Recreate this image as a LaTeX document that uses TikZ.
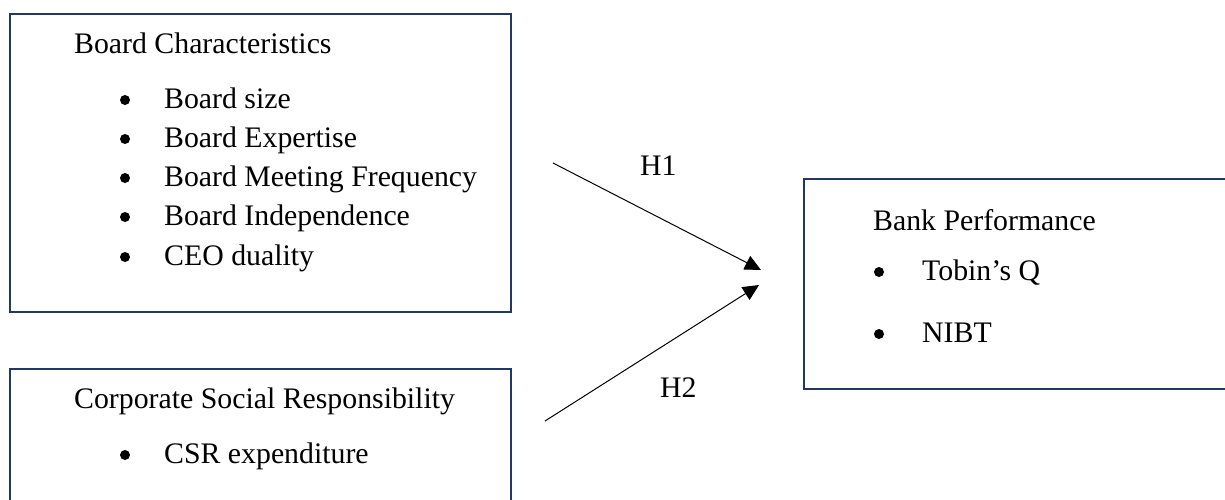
\documentclass[tikz,border=0pt]{standalone}
\usepackage{fontspec}
\setmainfont{Liberation Serif}
\usetikzlibrary{arrows.meta}
\definecolor{navy}{HTML}{203864}
\tikzset{
  box/.style={draw=navy, line width=2pt, anchor=north west, inner sep=0pt},
  txt/.style={anchor=base west, inner sep=0pt, font=\fontsize{29.8}{35}\selectfont},
  bul/.style={circle, fill=black, inner sep=0pt, minimum size=10pt},
  link/.style={line width=1pt, -{Triangle[length=16pt,width=15pt]}},
}
\begin{document}
\begin{tikzpicture}[x=1pt,y=-1pt]
\clip (0,0) rectangle (1225,499);
\fill[white] (0,0) rectangle (1225,499);
% boxes
\node[box, minimum width=501pt, minimum height=298pt] (bc) at (9,13) {};
\node[box, minimum width=501pt, minimum height=150pt] (csr) at (9,368) {};
\node[box, minimum width=440pt, minimum height=210pt] (bp) at (803,178) {};
% Board characteristics
\node[txt] (bct) at (74,53) {Board Characteristics};
\node[bul] (b1) at (125,100) {};
\node[txt] (t1) at (164,108) {Board size};
\node[bul] (b2) at (125,139) {};
\node[txt] (t2) at (164,147) {Board Expertise};
\node[bul] (b3) at (125,178) {};
\node[txt] (t3) at (164,186) {Board Meeting Frequency};
\node[bul] (b4) at (125,217) {};
\node[txt] (t4) at (164,225) {Board Independence};
\node[bul] (b5) at (125,257) {};
\node[txt] (t5) at (164,265) {CEO duality};
% CSR
\node[txt] (csrt) at (74,408) {Corporate Social Responsibility};
\node[bul] (b6) at (125,455) {};
\node[txt] (t6) at (164,463) {CSR expenditure};
% Bank performance
\node[txt] (bpt) at (873,230) {Bank Performance};
\node[bul] (b7) at (879,272) {};
\node[txt] (t7) at (922,280) {Tobin’s Q};
\node[bul] (b8) at (879,334) {};
\node[txt] (t8) at (922,342) {NIBT};
% arrows
\coordinate (h1s) at (553,163);
\coordinate (h1e) at (761,270);
\coordinate (h2s) at (545,421);
\coordinate (h2e) at (759,285);
\draw[link] (h1s) -- (h1e);
\draw[link] (h2s) -- (h2e);
\node[txt] (h1) at (640,175) {H1};
\node[txt] (h2) at (660,397) {H2};
\end{tikzpicture}
\end{document}
